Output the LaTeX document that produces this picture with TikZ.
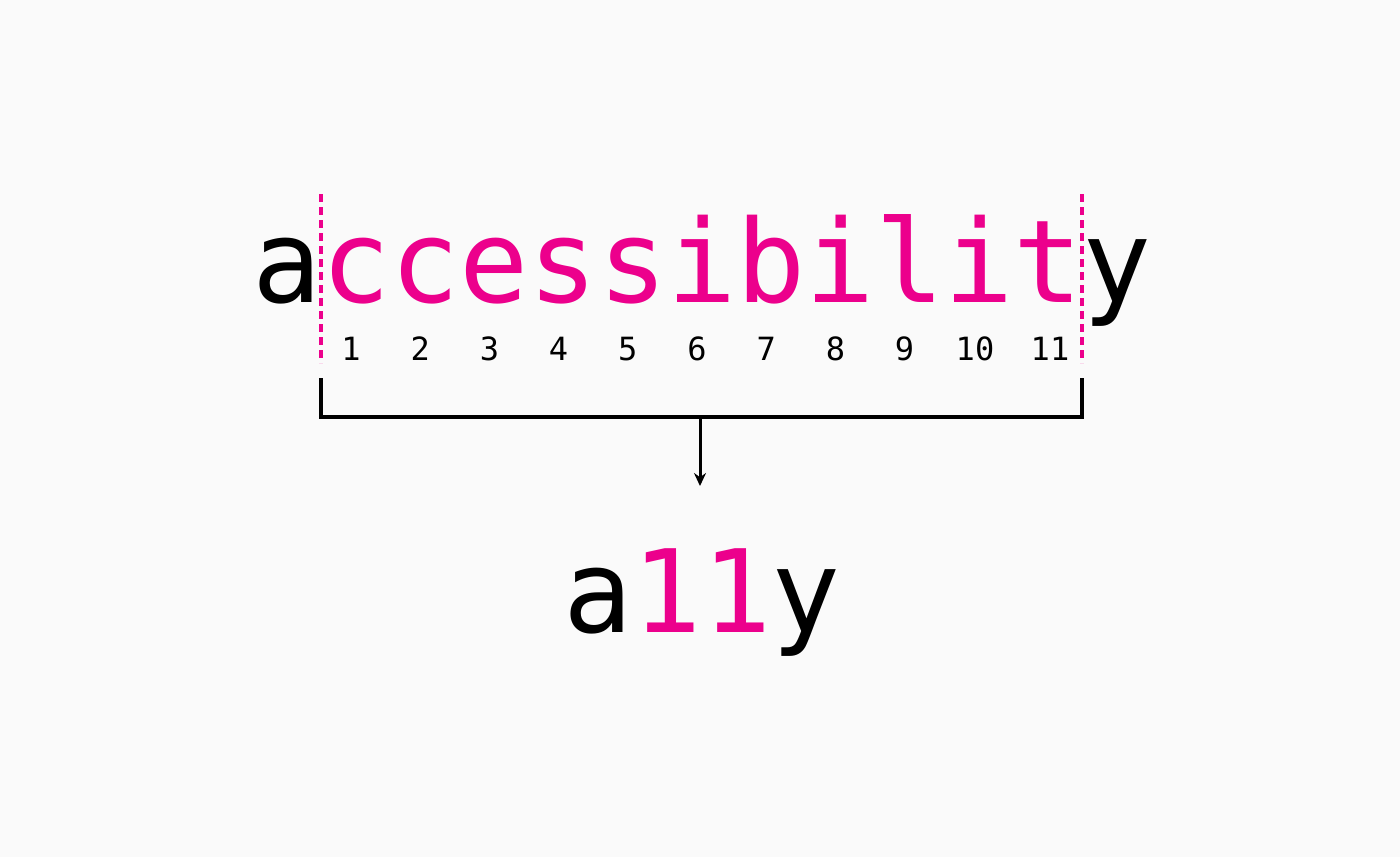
\documentclass[tikz,border=0pt]{standalone}
\usepackage{fontspec}
\usetikzlibrary{arrows.meta}
\newfontfamily\monofnt{DejaVu Sans Mono}
\definecolor{bgc}{HTML}{FAFAFA}
\definecolor{pinkc}{HTML}{EC008C}
\tikzset{
  bigtxt/.style={inner sep=0pt, anchor=base west, font=\monofnt\fontsize{115}{120}\selectfont},
  numtxt/.style={inner sep=0pt, anchor=base, font=\monofnt\fontsize{32}{36}\selectfont},
  dashline/.style={pinkc, line width=3.6pt, dash pattern=on 8pt off 5pt},
  bracket/.style={black, line width=3.6pt},
  arrowline/.style={black, line width=3pt, -{Stealth[length=13pt,width=12pt]}}
}
\begin{document}
\begin{tikzpicture}[x=1pt,y=-1pt]
\fill[bgc] (0,0) rectangle (1400,857);
\useasboundingbox (0,0) rectangle (1400,857);
% top word
\node[bigtxt] (wa) at (251.8,302) {a};
\node[bigtxt, text=pinkc] (wmid) at (321,302) {ccessibilit};
\node[bigtxt] (wy) at (1082,302) {y};
% dashed markers
\coordinate (dlt) at (321,194); \coordinate (dlb) at (321,363);
\coordinate (drt) at (1082,194); \coordinate (drb) at (1082,363);
\draw[dashline] (dlt) -- (dlb);
\draw[dashline] (drt) -- (drb);
% numbers
\foreach \i in {1,...,9} {
  \node[numtxt] (n\i) at ({351+69.2*(\i-1)},360) {\i};
}
\node[numtxt] (n10) at (975,360) {10};
\node[numtxt] (n11) at (1050,360) {11};
% bracket
\coordinate (bl) at (321,378); \coordinate (br) at (1082,378);
\coordinate (bm) at (700,417);
\coordinate (at) at (700,486);
\draw[bracket, line join=miter] (bl) -- (321,417) -- (1082,417) -- (br);
\draw[arrowline] (bm) -- (at);
% bottom word
\node[inner sep=0pt, anchor=base, font=\monofnt\fontsize{115}{120}\selectfont] (res) at (702,632) {a\textcolor{pinkc}{11}y};
\end{tikzpicture}
\end{document}
